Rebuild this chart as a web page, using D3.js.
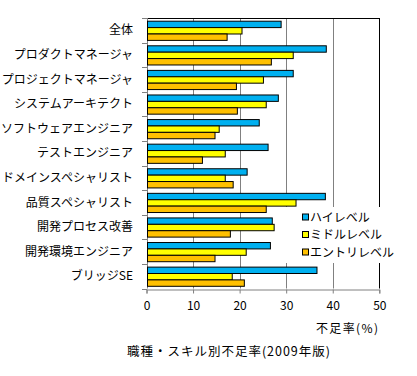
<!DOCTYPE html>
<html><head><meta charset="utf-8">
<script src="https://cdn.jsdelivr.net/npm/d3@7"></script>
<style>
body{margin:0;background:#fff;}
text{font-family:"Noto Sans CJK JP","Noto Sans",sans-serif;fill:#000;}
</style></head>
<body><svg id="c" width="417" height="376"></svg>
<script>
const categories = ["全体","プロダクトマネージャ","プロジェクトマネージャ","システムアーキテクト","ソフトウェアエンジニア","テストエンジニア","ドメインスペシャリスト","品質スペシャリスト","開発プロセス改善","開発環境エンジニア","ブリッジSE"];
const seriesNames = ["ハイレベル","ミドルレベル","エントリレベル"];
const highLevel  = [28.7,38.4,31.3,28.1,24.0,25.9,21.4,38.2,26.8,26.4,36.4];
const midLevel   = [20.3,31.3,24.9,25.5,15.4,16.7,16.7,31.9,27.2,21.2,18.2];
const entryLevel = [17.1,26.6,19.1,19.3,14.5,11.8,18.4,25.5,17.8,14.5,20.8];
const xTicks = [0,10,20,30,40,50];
const colors = ["#00B0F0","#FFFF00","#FFC000"];
const xLabel = "不足率(%)";
const title = "職種・スキル別不足率(2009年版)";

const seriesVals = [highLevel, midLevel, entryLevel];
const svg = d3.select("#c");
const L=146.5, R=379.3, T=18, B=288.5;
const x = d3.scaleLinear().domain([0,50]).range([L,R]);
const y0 = d3.scaleBand().domain(categories).range([T,B]).paddingInner(0.22).paddingOuter(0.11);
const y1 = d3.scaleBand().domain(seriesNames).range([0,y0.bandwidth()]);

// gridlines
svg.append("g").selectAll("line").data(xTicks.filter(d=>d>0 && d<50)).join("line")
  .attr("x1",d=>Math.round(x(d))+0.5).attr("x2",d=>Math.round(x(d))+0.5)
  .attr("y1",T).attr("y2",B).attr("stroke","#808080").attr("stroke-width",1);

// border top & right
svg.append("line").attr("x1",L).attr("x2",Math.round(R)+0.5).attr("y1",T+0.5).attr("y2",T+0.5).attr("stroke","#000");
svg.append("line").attr("x1",Math.round(R)+0.5).attr("x2",Math.round(R)+0.5).attr("y1",T).attr("y2",B).attr("stroke","#000");

// x axis
const xa = svg.append("g").attr("transform",`translate(0,${Math.round(B)+0.5})`)
  .call(d3.axisBottom(x).tickValues(xTicks).tickSize(4).tickPadding(8));
xa.select(".domain").attr("stroke","#808080");
xa.selectAll(".tick line").attr("stroke","#808080");
xa.selectAll("text").attr("font-size","12px").attr("font-family","'Noto Sans CJK JP',sans-serif");

// y axis line and ticks
const step = y0.step();
svg.append("line").attr("x1",Math.round(L)+0.5).attr("x2",Math.round(L)+0.5).attr("y1",T).attr("y2",B).attr("stroke","#808080");
svg.append("g").selectAll("line").data(d3.range(categories.length+1)).join("line")
  .attr("x1",Math.round(L)-5).attr("x2",Math.round(L))
  .attr("y1",i=>Math.round(T+i*step)+0.5).attr("y2",i=>Math.round(T+i*step)+0.5)
  .attr("stroke","#808080");

// category labels
svg.append("g").selectAll("text").data(categories).join("text")
  .attr("x",133).attr("y",d=>y0(d)+y0.bandwidth()/2).attr("dy","0.35em")
  .attr("text-anchor","end").attr("font-size","12px").text(d=>d);

// bars
categories.forEach((c,i)=>{
  seriesVals.forEach((vals,s)=>{
    svg.append("rect")
      .attr("x",Math.round(x(0))+0.5)
      .attr("y",y0(c)+y1(seriesNames[s])+0.5)
      .attr("width",x(vals[i])-x(0))
      .attr("height",y1.bandwidth())
      .attr("fill",colors[s]).attr("stroke","#000").attr("stroke-width",1);
  });
});

// legend
const lg = svg.append("g");
lg.append("rect").attr("x",284).attr("y",207).attr("width",110).attr("height",56).attr("fill","#fff");
seriesNames.forEach((n,i)=>{
  const cy = 217.5 + i*17.5;
  lg.append("rect").attr("x",302.5).attr("y",cy-3.5).attr("width",6).attr("height",6)
    .attr("fill",colors[i]).attr("stroke","#000");
  lg.append("text").attr("x",310).attr("y",cy).attr("dy","0.35em").attr("font-size","12px").text(n);
});

// axis title
svg.append("text").attr("x",316).attr("y",329).attr("dy","0.35em")
  .attr("font-size","12px").attr("textLength",62).attr("lengthAdjust","spacing").text(xLabel);
svg.append("text").attr("x",127).attr("y",352).attr("dy","0.35em")
  .attr("font-size","12.5px").attr("textLength",203).attr("lengthAdjust","spacing").text(title);
</script></body></html>
